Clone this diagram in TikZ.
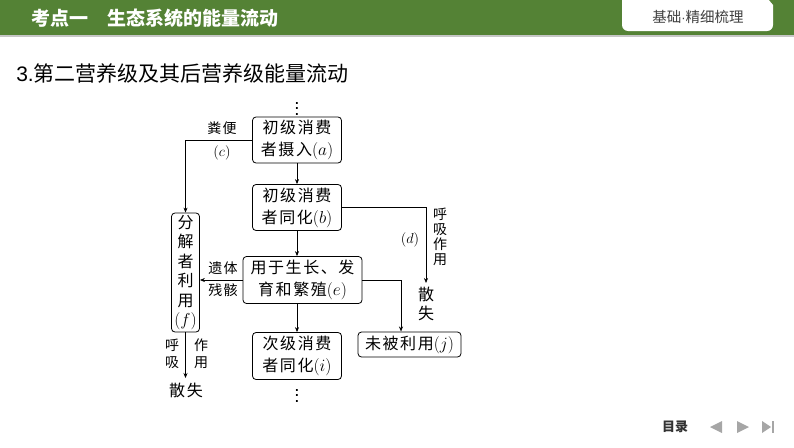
\documentclass[tikz,border=0pt]{standalone}
\usepackage{amsmath}
\usepackage{fontspec}
\setmainfont{Liberation Sans}
\newfontfamily\cjk{Noto Sans CJK SC}
\newfontfamily\cjkbox{Noto Sans CJK SC}[LetterSpace=10]
\usepackage{tikz}
\usetikzlibrary{arrows.meta, positioning}
\definecolor{hdgreen}{RGB}{84,130,53}
\definecolor{navgray}{RGB}{166,166,166}
\definecolor{tabtext}{RGB}{64,64,64}

\begin{document}
\begin{tikzpicture}[x=1pt, y=-1pt, >={Stealth[length=5pt, width=4pt]}, line width=0.6pt]
\tikzstyle{stage}=[draw, rounded corners=3.5pt, line width=0.8pt, align=center, inner sep=0pt, font=\cjkbox\fontsize{16}{22}\selectfont]
\tikzstyle{note}=[align=center, inner sep=0pt, font=\cjkbox\fontsize{14}{22}\selectfont]
\tikzstyle{loss}=[align=center, inner sep=0pt, font=\cjk\fontsize{16}{19}\selectfont]
\tikzstyle{more}=[inner sep=0pt, font=\Large]

\useasboundingbox (0,0) rectangle (794,447);

% header
\fill[hdgreen] (0,0) rectangle (794,35);
\fill[gray!45] (0,35) rectangle (794,36.5);
\fill[white] (622,-1) [rounded corners=6pt] -- (622,31) -- (773,31) [sharp corners] -- (773,5) -- (768,-1) -- cycle;
\node[font=\cjk\fontsize{14.5}{14.5}\selectfont, text=tabtext] (tab) at (698,17) {基础{\normalfont\fontsize{13}{13}\selectfont ·}精细梳理};
\node[anchor=west, inner sep=0pt, font=\cjk\bfseries\fontsize{19}{19}\selectfont, text=white] (title) at (31,18) {考点一\hspace{1em}生态系统的能量流动};
\node[anchor=west, inner sep=0pt, font=\fontsize{21}{21}\selectfont] (sub) at (16,73) {3.{\cjk 第二营养级及其后营养级能量流动}};

% flow
\node[more] (dtop) at (297,105) {\scalebox{1.3}{$\vdots$}};
\node[stage, minimum width=89pt, minimum height=46pt] (a) at (297,140) {初级消费\\者摄入$(a)$};
\node[stage, minimum width=89pt, minimum height=46pt] (b) at (297,207.5) {初级消费\\者同化$(b)$};
\node[stage, minimum width=119pt, minimum height=47pt] (e) at (302.5,280) {用于生长、发\\育和繁殖$(e)$};
\node[stage, minimum width=89pt, minimum height=47pt] (i) at (297,356) {次级消费\\者同化$(i)$};
\node[more] (dbot) at (297,392) {\scalebox{1.3}{$\vdots$}};
\node[stage, minimum width=28pt, minimum height=119pt, font=\cjkbox\fontsize{16}{19.5}\selectfont] (f) at (185.5,272.5) {分\\解\\者\\利\\用\\$(f)$};
\node[stage, minimum width=103pt, minimum height=25pt] (j) at (409.5,344.5) {未被利用$(j)$};

\node[note] (c1) at (222,128) {粪便};
\node[note] (c2) at (222,153) {$(c)$};
\node[note] (rem) at (223,279) {遗体\\残骸};
\node[note] (d) at (410,240) {$(d)$};
\node[note, font=\cjk\fontsize{14}{15}\selectfont] (resp1) at (440,237) {呼\\吸\\作\\用};
\node[loss] (out1) at (426,303.5) {散\\失};
\node[note, font=\cjk\fontsize{14}{17}\selectfont] (resp2a) at (172,353.5) {呼\\吸};
\node[note, font=\cjk\fontsize{14}{17}\selectfont] (resp2b) at (201,353.5) {作\\用};
\node[loss, font=\cjkbox\fontsize{16}{19}\selectfont] (out2) at (186,390) {散失};

\coordinate (dtip) at (426,283);
\coordinate (ftip) at (185.5,378);
\coordinate (jtip) at (401,331.5);

\path[->] (a) edge node {} (b);
\path[->] (b.south) edge node {} (b.south |- e.north);
\path[->] (e.south -| i.north) edge node {} (i.north);
\path[->] (e.west) edge node {} (e.west -| f.east);
\path[->] (f.south) edge node {} (ftip);
\draw[->] (a.west) -| (f.north);
\draw[->] (b.east) -| (dtip);
\draw[->] (e.east) -| (jtip);

% navigation
\node[font=\cjk\bfseries\fontsize{13}{13}\selectfont, text=black!80] (menu) at (675,427) {目录};
\fill[navgray] (722,421) -- (722,433) -- (710,427) -- cycle;
\fill[navgray] (737,421) -- (737,433) -- (749,427) -- cycle;
\fill[navgray] (762,421) -- (762,433) -- (771,427) -- cycle;
\fill[navgray] (772,421) rectangle (774,433);
\end{tikzpicture}
\end{document}
